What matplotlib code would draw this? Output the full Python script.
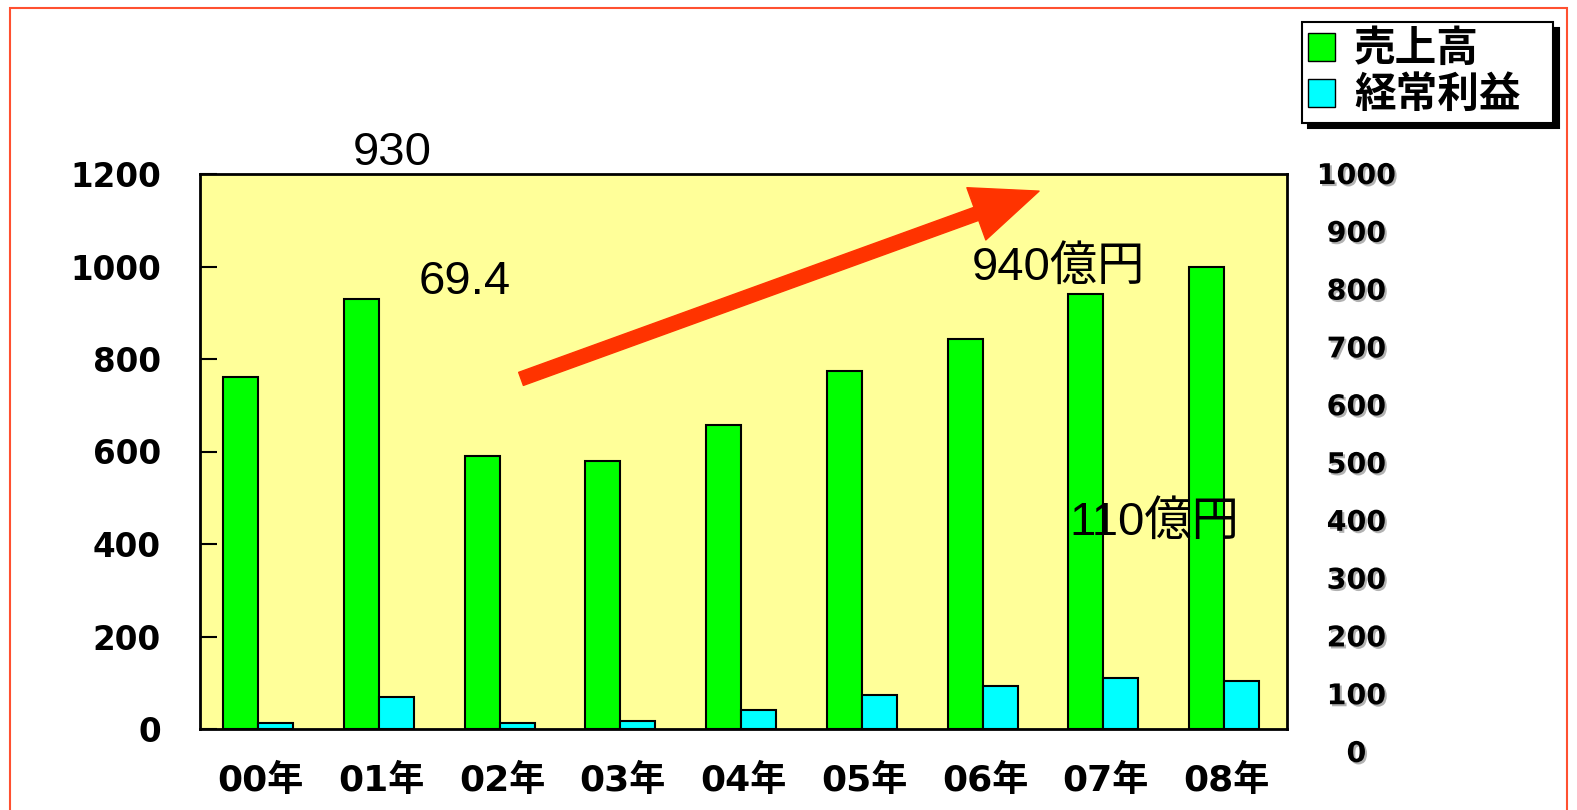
import matplotlib.pyplot as plt
import matplotlib.patheffects as pe
from matplotlib.patches import Patch, Rectangle, FancyArrowPatch
import numpy as np

# データ
years = ['00年', '01年', '02年', '03年', '04年', '05年', '06年', '07年', '08年']
sales = [762, 930, 591, 580, 658, 773, 843, 940, 998]      # 売上高
profit = [13, 69.4, 12.5, 17, 42, 74, 92, 110, 103]      # 経常利益
left_ticks = [0, 200, 400, 600, 800, 1000, 1200]
right_ticks = [0, 100, 200, 300, 400, 500, 600, 700, 800, 900, 1000]

W, H = 1577, 810
fig = plt.figure(figsize=(W / 100, H / 100), dpi=100)
fonts = ['DejaVu Sans', 'Noto Sans CJK JP']
fonts_reg = ['Liberation Sans', 'Noto Sans CJK JP']

# 外枠
fig.patches.append(Rectangle((10 / W, -0.05), 1557 / W, 1.05 - 8 / H, transform=fig.transFigure,
                             fill=False, edgecolor='#ff5030', linewidth=1.5))

ax = fig.add_axes([200 / W, 1 - 729 / H, 1087 / W, 555 / H])
ax.set_facecolor('#ffff99')

x = np.arange(len(years))
w = 0.29
ax.bar(x - w / 2 - 0.02, sales, w, color='#00ff00', edgecolor='black', linewidth=1.5, label='売上高')
ax.bar(x + w / 2 - 0.02, profit, w, color='#00ffff', edgecolor='black', linewidth=1.5, label='経常利益')

ax.set_xlim(-0.5, len(years) - 0.5)
ax.set_ylim(0, 1200)
ax.set_yticks(left_ticks)
ax.set_yticklabels([str(t) for t in left_ticks], fontsize=23.5, fontweight='bold', family=fonts)
ax.tick_params(axis='y', direction='in', length=12, width=1.5, pad=28)
ax.set_xticks(x)
ax.set_xticklabels(years, fontsize=26, fontweight='bold', family=fonts)
ax.tick_params(axis='x', length=0, pad=25)
for s in ax.spines.values():
    s.set_linewidth(2)

# 右側の目盛り
ax2 = fig.add_axes([200 / W, 1 - 751 / H, 1087 / W, 578 / H])
ax2.set_facecolor('none')
for s in ax2.spines.values():
    s.set_visible(False)
ax2.set_xticks([])
ax2.set_ylim(0, 1000)
ax2.yaxis.tick_right()
ax2.set_yticks(right_ticks)
ax2.set_yticklabels([str(t) for t in right_ticks], fontsize=20.5, fontweight='bold', family=fonts, ha='center')
ax2.tick_params(axis='y', length=0, pad=50)
for lab in ax2.get_yticklabels():
    lab.set_path_effects([pe.SimplePatchShadow(offset=(1.5, -1.5), shadow_rgbFace='gray', alpha=0.6), pe.Normal()])

# 注記
ax.text(1.094, 1245, f'{sales[1]:.0f}', fontsize=34, family=fonts_reg, ha='center', va='center')
ax.text(1.694, 966, f'{profit[1]}', fontsize=34, family=fonts_reg, ha='center', va='center')
ax.text(6.61, 997, f'{sales[7]:.0f}億円', fontsize=34, family=fonts_reg, ha='center', va='center')
ax.text(7.40, 445, f'{profit[7]:.0f}億円', fontsize=34, family=fonts_reg, ha='center', va='center')

arrow = FancyArrowPatch((2.158, 757), (6.447, 1163),
                        arrowstyle='simple,head_length=2.4,head_width=2.0,tail_width=0.5',
                        mutation_scale=20, color='#ff3300', shrinkA=0, shrinkB=0, clip_on=False)
ax.add_patch(arrow)

handles = [Patch(facecolor='#00ff00', edgecolor='black', label='売上高'),
           Patch(facecolor='#00ffff', edgecolor='black', label='経常利益')]
leg = fig.legend(handles=handles, loc='upper left', mode='expand',
                 bbox_to_anchor=(1302 / W, 1 - 122 / H, 251 / W, 100 / H),
                 prop={'family': fonts, 'weight': 'bold', 'size': 30},
                 fancybox=False, framealpha=1, edgecolor='black',
                 handlelength=0.65, handleheight=0.65, handletextpad=0.45,
                 borderpad=0.15, labelspacing=0.1, borderaxespad=0,
                 shadow={'ox': 4, 'oy': -4, 'color': 'black', 'alpha': 1})
leg.get_frame().set_linewidth(1.5)

plt.savefig('out.png', dpi=100)
